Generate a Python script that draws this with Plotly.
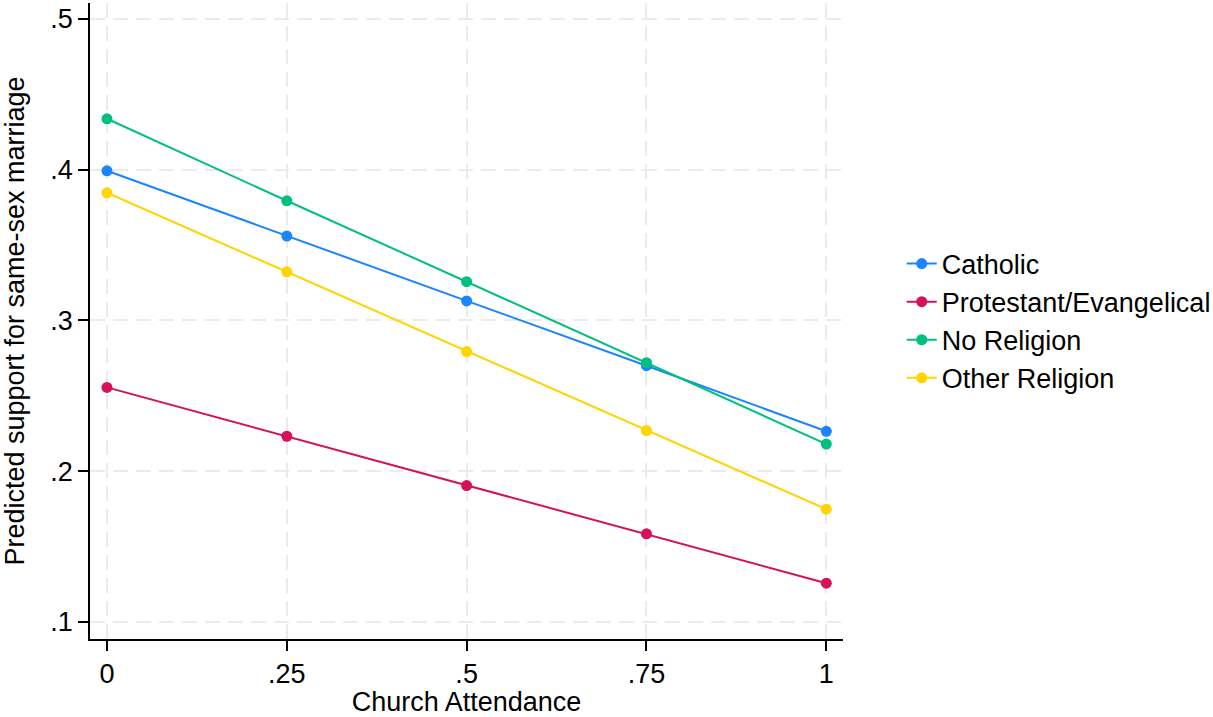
import plotly.graph_objects as go

attendance = [0, 0.25, 0.5, 0.75, 1]
catholic = [0.3993, 0.3560, 0.3130, 0.2700, 0.2265]
protestant = [0.2556, 0.2232, 0.1905, 0.1585, 0.1257]
no_religion = [0.4338, 0.3794, 0.3257, 0.2720, 0.2180]
other_religion = [0.3847, 0.3323, 0.2794, 0.2270, 0.1748]

series_names = ["Catholic", "Protestant/Evangelical", "No Religion", "Other Religion"]
series_values = [catholic, protestant, no_religion, other_religion]
colors = ["#1a85ff", "#d41159", "#00bf7f", "#ffd400"]

x_tickvals = [0, 0.25, 0.5, 0.75, 1]
x_ticktext = ["0", ".25", ".5", ".75", "1"]
y_tickvals = [0.1, 0.2, 0.3, 0.4, 0.5]
y_ticktext = [".1", ".2", ".3", ".4", ".5"]

FONT = "Arial, Liberation Sans, sans-serif"
FS = 27

fig = go.Figure()
for name, vals, col in zip(series_names, series_values, colors):
    fig.add_trace(go.Scatter(
        x=attendance, y=vals, name=name, mode="lines+markers",
        line=dict(color=col, width=2),
        marker=dict(color=col, size=11),
    ))

axis_common = dict(
    showline=True, linecolor="black", linewidth=1.5,
    ticks="outside", ticklen=10, tickwidth=1.5, tickcolor="black",
    showgrid=True, gridcolor="#ebebeb", gridwidth=2, griddash="15px,8px",
    zeroline=False, tickfont=dict(size=FS, color="black", family=FONT),
    automargin=False,
)

fig.update_layout(
    width=1213, height=717,
    margin=dict(l=90, r=370, t=3, b=78, autoexpand=False),
    paper_bgcolor="white", plot_bgcolor="white",
    font=dict(family=FONT, color="black", size=FS),
    xaxis=dict(range=[-0.0236, 1.0232], tickvals=x_tickvals, ticktext=x_ticktext,
               title=dict(text="Church Attendance", font=dict(size=FS), standoff=10),
               **axis_common),
    yaxis=dict(range=[0.0887, 0.5106], tickvals=y_tickvals, ticktext=y_ticktext,
               title=dict(text="Predicted support for same-sex marriage", font=dict(size=FS), standoff=18),
               **axis_common),
    legend=dict(x=1.078, xanchor="left", y=0.5, yanchor="middle",
                font=dict(size=FS, color="black"), bgcolor="rgba(0,0,0,0)",
                borderwidth=0),
    showlegend=True,
)

fig.write_html("out.html", config={"displayModeBar": False},
               post_script="document.body.style.margin='0px';")
